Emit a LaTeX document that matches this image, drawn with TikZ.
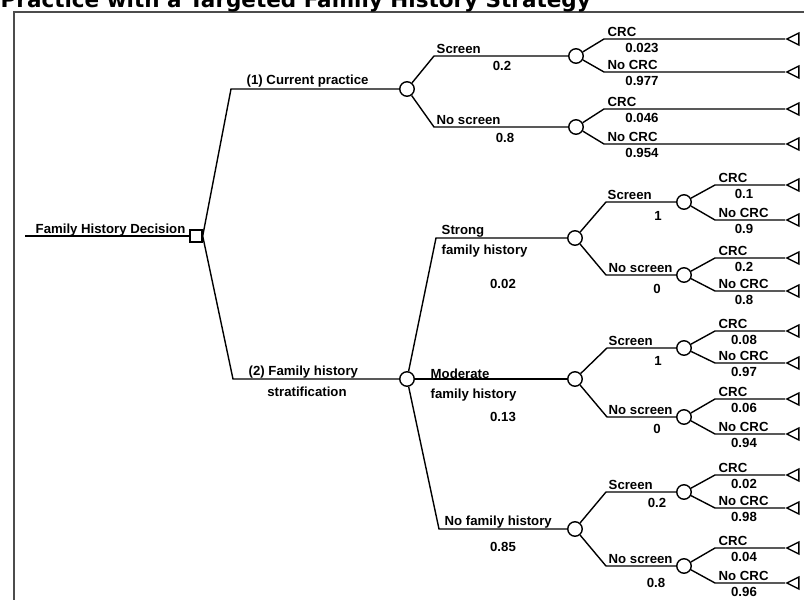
\documentclass[tikz,border=0pt]{standalone}
\usepackage{fontspec}
\setmainfont{Liberation Sans}
\newfontfamily\titlefont{DejaVu Sans}
\usetikzlibrary{shapes.geometric}
\newcommand{\lbfont}{\fontsize{13.2}{15}\selectfont\bfseries}

\begin{document}
\begin{tikzpicture}[x=1pt, y=-1pt, line width=1.4pt,
    decision/.style={rectangle, draw, fill=white, minimum size=12pt, inner sep=0pt},
    chance/.style={circle, draw, fill=white, minimum size=14.5pt, inner sep=0pt},
    term/.style={isosceles triangle, shape border rotate=180, isosceles triangle stretches,
                 draw, minimum width=12pt, minimum height=12pt, inner sep=0pt, anchor=apex},
    lbl/.style={anchor=base west, inner sep=0pt, font=\lbfont},
    val/.style={anchor=base, inner sep=0pt, font=\lbfont}]
    \useasboundingbox (0,0) rectangle (804,600);
    % frame and title
    \draw[black!70, line width=2pt] (14,600) -- (14,11.5) -- (804,11.5);
    \node[anchor=base west, inner sep=0pt, font=\titlefont\bfseries\fontsize{21.5}{24}\selectfont] (title) at (0,7)
        {Practice with a Targeted Family History Strategy};

    % decision and strategies
    \coordinate (root) at (25,236);
    \node[decision] (dec) at (196,236) {};
    \coordinate (k1) at (231,89);  \node[chance] (c1) at (407,89) {};
    \coordinate (k2) at (233,379); \node[chance] (c2) at (407,379) {};
    \draw (root) -- (dec); \draw (dec.east) -- (k1) -- (c1); \draw (dec.east) -- (k2) -- (c2);
    \node[lbl] at (35,233) {Family History Decision};
    \node[lbl] at (246,84) {(1) Current practice};
    \node[lbl] at (248,375) {(2) Family history};
    \node[val] at (307,396) {stratification};

    % current practice
    \coordinate (ka) at (434,56);  \node[chance] (sa) at (576,56) {};
    \coordinate (kb) at (434,127); \node[chance] (na) at (576,127) {};
    \draw (c1) -- (ka) -- (sa); \draw (c1) -- (kb) -- (na);
    \node[lbl] at (436,53) {Screen};    \node[val] at (502,70) {0.2};
    \node[lbl] at (436,124) {No screen}; \node[val] at (505,142) {0.8};
    \coordinate (sa1) at (604,39);  \node[term] (ta1) at (785,39) {};
    \coordinate (sa2) at (604,72);  \node[term] (ta2) at (785,72) {};
    \coordinate (na1) at (604,109); \node[term] (ta3) at (785,109) {};
    \coordinate (na2) at (604,144); \node[term] (ta4) at (785,144) {};
    \draw (sa) -- (sa1) -- (ta1); \draw (sa) -- (sa2) -- (ta2);
    \draw (na) -- (na1) -- (ta3); \draw (na) -- (na2) -- (ta4);
    \node[lbl] at (607,36.5) {CRC};     \node[val] at (642,52.5) {0.023};
    \node[lbl] at (607,69.5) {No CRC};  \node[val] at (642,85.5) {0.977};
    \node[lbl] at (607,106.5) {CRC};    \node[val] at (642,122.5) {0.046};
    \node[lbl] at (607,141.5) {No CRC}; \node[val] at (642,157.5) {0.954};

    % family history stratification
    \coordinate (kS) at (436,238); \node[chance] (h1) at (575,238) {};
    \node[chance] (h2) at (575,379) {};
    \coordinate (kN) at (439,529); \node[chance] (h3) at (575,529) {};
    \draw (c2) -- (kS) -- (h1); \draw (c2) -- (h2); \draw (c2) -- (kN) -- (h3);
    \node[lbl] at (441,234) {Strong};   \node[lbl] at (441,254) {family history}; \node[val] at (503,288) {0.02};
    \node[lbl] at (430,378) {Moderate}; \node[lbl] at (430,398) {family history}; \node[val] at (503,421) {0.13};
    \node[lbl] at (444,525) {No family history}; \node[val] at (503,551) {0.85};

    % strong family history
    \coordinate (m1) at (606,202); \node[chance] (h1s) at (684,202) {};
    \coordinate (m2) at (606,275); \node[chance] (h1n) at (684,275) {};
    \draw (h1) -- (m1) -- (h1s); \draw (h1) -- (m2) -- (h1n);
    \node[lbl] at (607,199) {Screen};    \node[val] at (658,220) {1};
    \node[lbl] at (608,272) {No screen}; \node[val] at (657,293) {0};
    \coordinate (l1) at (715,185); \node[term] (t1) at (785,185) {};
    \coordinate (l2) at (715,220); \node[term] (t2) at (785,220) {};
    \coordinate (l3) at (715,258); \node[term] (t3) at (785,258) {};
    \coordinate (l4) at (715,291); \node[term] (t4) at (785,291) {};
    \draw (h1s) -- (l1) -- (t1); \draw (h1s) -- (l2) -- (t2);
    \draw (h1n) -- (l3) -- (t3); \draw (h1n) -- (l4) -- (t4);
    \node[lbl] at (718,182.5) {CRC};    \node[val] at (744,198.5) {0.1};
    \node[lbl] at (718,217.5) {No CRC}; \node[val] at (744,233.5) {0.9};
    \node[lbl] at (718,255.5) {CRC};    \node[val] at (744,271.5) {0.2};
    \node[lbl] at (718,288.5) {No CRC}; \node[val] at (744,304.5) {0.8};

    % moderate family history
    \coordinate (m3) at (607,348); \node[chance] (h2s) at (684,348) {};
    \coordinate (m4) at (607,417); \node[chance] (h2n) at (684,417) {};
    \draw (h2) -- (m3) -- (h2s); \draw (h2) -- (m4) -- (h2n);
    \node[lbl] at (608,345) {Screen};    \node[val] at (658,365) {1};
    \node[lbl] at (608,414) {No screen}; \node[val] at (657,433) {0};
    \coordinate (l5) at (715,331); \node[term] (t5) at (785,331) {};
    \coordinate (l6) at (715,363); \node[term] (t6) at (785,363) {};
    \coordinate (l7) at (715,399); \node[term] (t7) at (785,399) {};
    \coordinate (l8) at (715,434); \node[term] (t8) at (785,434) {};
    \draw (h2s) -- (l5) -- (t5); \draw (h2s) -- (l6) -- (t6);
    \draw (h2n) -- (l7) -- (t7); \draw (h2n) -- (l8) -- (t8);
    \node[lbl] at (718,328.5) {CRC};    \node[val] at (744,344.5) {0.08};
    \node[lbl] at (718,360.5) {No CRC}; \node[val] at (744,376.5) {0.97};
    \node[lbl] at (718,396.5) {CRC};    \node[val] at (744,412.5) {0.06};
    \node[lbl] at (718,431.5) {No CRC}; \node[val] at (744,447.5) {0.94};

    % no family history
    \coordinate (m5) at (606,492); \node[chance] (h3s) at (684,492) {};
    \coordinate (m6) at (606,566); \node[chance] (h3n) at (684,566) {};
    \draw (h3) -- (m5) -- (h3s); \draw (h3) -- (m6) -- (h3n);
    \node[lbl] at (608,489) {Screen};    \node[val] at (657,507) {0.2};
    \node[lbl] at (608,563) {No screen}; \node[val] at (656,587) {0.8};
    \coordinate (l9) at (715,475);  \node[term] (t9) at (785,475) {};
    \coordinate (l10) at (715,508); \node[term] (t10) at (785,508) {};
    \coordinate (l11) at (715,548); \node[term] (t11) at (785,548) {};
    \coordinate (l12) at (715,583); \node[term] (t12) at (785,583) {};
    \draw (h3s) -- (l9) -- (t9);   \draw (h3s) -- (l10) -- (t10);
    \draw (h3n) -- (l11) -- (t11); \draw (h3n) -- (l12) -- (t12);
    \node[lbl] at (718,472.5) {CRC};    \node[val] at (744,488.5) {0.02};
    \node[lbl] at (718,505.5) {No CRC}; \node[val] at (744,521.5) {0.98};
    \node[lbl] at (718,545.5) {CRC};    \node[val] at (744,561.5) {0.04};
    \node[lbl] at (718,580.5) {No CRC}; \node[val] at (744,596.5) {0.96};
\end{tikzpicture}
\end{document}
